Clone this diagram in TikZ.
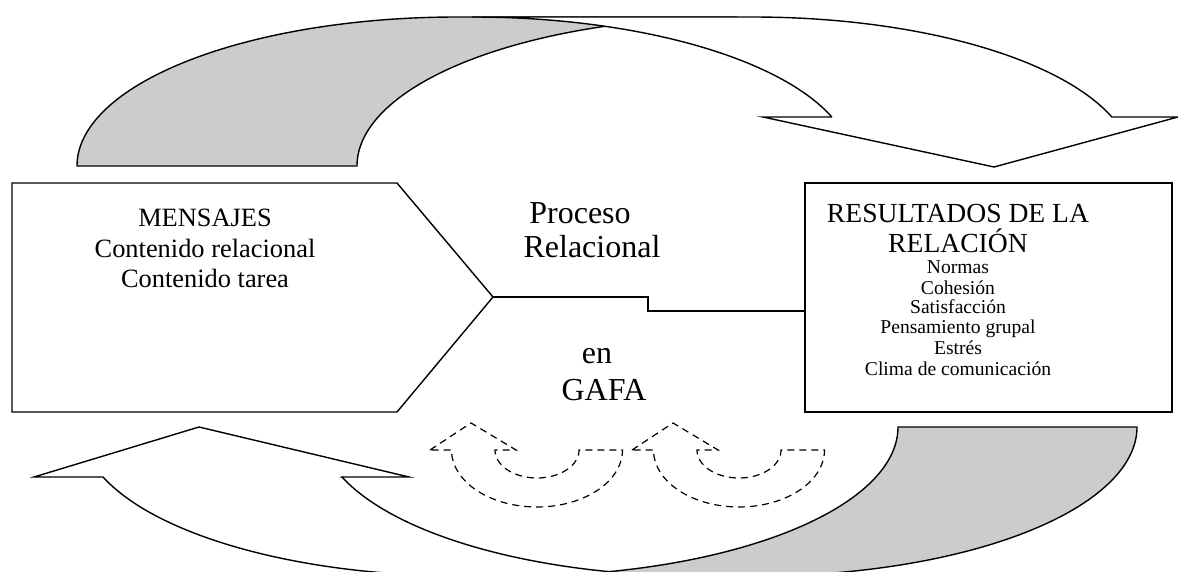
\documentclass[tikz,border=0pt]{standalone}
\usepackage{fontspec}
\setmainfont{Liberation Serif}
\definecolor{shade}{RGB}{204,204,204}
\begin{document}
\begin{tikzpicture}[x=0.5pt,y=-0.5pt,line width=0.7pt,line join=miter,
  band/.style={draw=black,fill=white},
  backband/.style={draw=black,fill=shade},
  dashband/.style={draw=black,line width=0.6pt,dash pattern=on 3.5pt off 2.5pt},
  big/.style={font=\fontsize{16}{18}\selectfont,anchor=base,inner sep=0pt},
  mid/.style={font=\fontsize{13.2}{15}\selectfont,anchor=base,inner sep=0pt},
  head/.style={font=\fontsize{13.8}{16}\selectfont,anchor=base,inner sep=0pt},
  small/.style={font=\fontsize{9.8}{11}\selectfont,anchor=base,inner sep=0pt}]
\useasboundingbox (0,0) rectangle (1178,572);
\clip (0,0) rectangle (1178,572);

% ---------- upper curved arrow ----------
\filldraw[backband] plot[domain=180:270,samples=90] ({457+380*cos(\x)},{166+149*sin(\x)})
  -- (737,17)
  -- plot[domain=270:180,samples=90] ({737+380*cos(\x)},{166+149*sin(\x)}) -- cycle;
\filldraw[band] (473,17) -- (753,17)
  -- plot[domain=270:340.8,samples=90] ({753+380*cos(\x)},{166+149*sin(\x)})
  -- (1178,117) -- (994,167) -- (763,117) -- (832,117)
  -- plot[domain=340.8:270,samples=90] ({473+380*cos(\x)},{166+149*sin(\x)}) -- cycle;

% ---------- lower curved arrow ----------
\filldraw[backband] (1137,427)
  -- plot[domain=0:90,samples=90] ({757+380*cos(\x)},{427+149*sin(\x)})
  -- plot[domain=90:0,samples=90] ({518+380*cos(\x)},{427+149*sin(\x)}) -- cycle;
\filldraw[band] (34,477) -- (199,427) -- (409,477) -- (342,477)
  -- plot[domain=160.4:90,samples=90] ({700+380*cos(\x)},{427+149*sin(\x)})
  -- plot[domain=90:160.4,samples=90] ({461+380*cos(\x)},{427+149*sin(\x)}) -- cycle;

% ---------- dashed small arrows ----------
\foreach \o in {0,202}{
  \draw[dashband] ({430+\o},450) -- ({471+\o},423) -- ({516+\o},450) -- ({495+\o},450)
    -- plot[domain=180:0,samples=60] ({537+\o+42*cos(\x)},{450+28*sin(\x)})
    -- ({622.5+\o},450)
    -- plot[domain=0:180,samples=60] ({537+\o+85.5*cos(\x)},{450+57*sin(\x)}) -- cycle;
}

% ---------- boxes ----------
\draw (12,183) -- (397,183) -- (493,297) -- (397,412) -- (12,412) -- cycle;
\coordinate (mtip) at (493,297);
\draw (805,183) rectangle (1172,412);
\coordinate (rin) at (805,311);
\draw (mtip) -- ++(155,0) |- (rin);

% ---------- texts ----------
\node[mid] (m1) at (205,227) {MENSAJES};
\node[mid] (m2) at (205,258) {Contenido relacional};
\node[mid] (m3) at (205,288) {Contenido tarea};

\node[big] (p1) at (580,224) {Proceso};
\node[big] (p2) at (592,258) {Relacional};
\node[big] (p3) at (597,364) {en};
\node[big] (p4) at (604,400) {GAFA};

\node[head] (r1) at (958,223) {RESULTADOS DE LA};
\node[head] (r2) at (958,253) {RELACIÓN};
\node[small] (s1) at (958,274) {Normas};
\node[small] (s2) at (958,294) {Cohesión};
\node[small] (s3) at (958,314) {Satisfacción};
\node[small] (s4) at (958,334) {Pensamiento grupal};
\node[small] (s5) at (958,354) {Estrés};
\node[small] (s6) at (958,375) {Clima de comunicación};
\end{tikzpicture}
\end{document}
